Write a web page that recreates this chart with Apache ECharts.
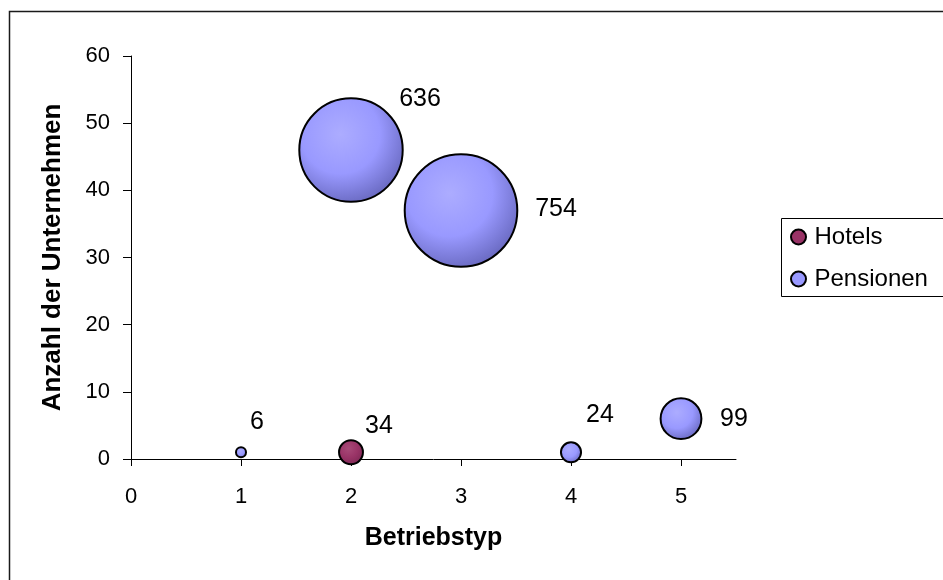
<!DOCTYPE html>
<html>
<head>
<meta charset="utf-8">
<title>Betriebstyp</title>
<script src="https://cdn.jsdelivr.net/npm/echarts@6/dist/echarts.min.js"></script>
<style>
    html, body { margin: 0; padding: 0; background: #fff; }
    #container { width: 943px; height: 580px; }
</style>
</head>
<body>
<div id="container"></div>
<script>
// Daten
var seriesNames = ['Hotels', 'Pensionen'];
// Betriebstyp (x), Anzahl der Unternehmen (y), Blasengröße
var hotelsX = [2];
var hotelsY = [1];
var hotelsSize = [34];
var pensionenX = [1, 2, 3, 4, 5];
var pensionenY = [1, 46, 37, 1, 6];
var pensionenSize = [6, 636, 754, 24, 99];
var xTicks = [0, 1, 2, 3, 4, 5];

// Beschriftungsversatz (nur Layout)
var hotelsLabelOffset = [[28, -26]];
var pensionenLabelOffset = [[16, -30], [69, -51], [95, -1], [29, -37], [53, 0]];

var font = 'Liberation Sans, Arial, sans-serif';

function buildData(xs, ys, sizes, offsets) {
    var out = [];
    for (var i = 0; i < xs.length; i++) {
        out.push({
            value: [xs[i], ys[i], sizes[i]],
            label: {offset: offsets[i]}
        });
    }
    return out;
}

function bubbleColor(light, mid, dark) {
    return {
        type: 'radial', x: 0.4, y: 0.35, r: 0.75,
        colorStops: [
            {offset: 0, color: light},
            {offset: 0.5, color: mid},
            {offset: 1, color: dark}
        ]
    };
}

var dom = document.getElementById('container');
var myChart = echarts.init(dom, null, {renderer: 'canvas'});

var option = {
    backgroundColor: '#fff',
    animation: false,
    textStyle: {fontFamily: font},
    grid: {left: 131, right: 207, top: 56, bottom: 121},
    graphic: [
        {   // äußerer Rahmen
            type: 'rect',
            shape: {x: 9.5, y: 11.5, width: 1000, height: 1000},
            style: {fill: 'none', stroke: '#1a1a1a', lineWidth: 1.5}
        },
        {   // Legendenrahmen
            type: 'rect',
            shape: {x: 781.5, y: 218.5, width: 200, height: 78},
            style: {fill: 'none', stroke: '#000', lineWidth: 1}
        }
    ],
    legend: {
        orient: 'vertical',
        left: 785,
        top: 220,
        icon: 'circle',
        itemWidth: 22,
        itemHeight: 15,
        itemGap: 18,
        textStyle: {fontFamily: font, fontSize: 24, color: '#000', lineHeight: 24},
        data: [
            {name: seriesNames[0], itemStyle: {color: '#993366', borderColor: '#000', borderWidth: 2}},
            {name: seriesNames[1], itemStyle: {color: '#9999ff', borderColor: '#000', borderWidth: 2}}
        ]
    },
    xAxis: {
        type: 'value',
        min: 0,
        max: 5.5,
        interval: 1,
        name: 'Betriebstyp',
        nameLocation: 'middle',
        nameGap: 67,
        nameTextStyle: {fontFamily: font, fontSize: 25, fontWeight: 'bold', color: '#000'},
        axisLine: {show: true, lineStyle: {color: '#000', width: 1}},
        axisTick: {show: true, length: 7, customValues: xTicks, lineStyle: {color: '#000'}},
        axisLabel: {fontFamily: font, fontSize: 22, color: '#000', margin: 27, customValues: xTicks},
        splitLine: {show: false}
    },
    yAxis: {
        type: 'value',
        min: 0,
        max: 60,
        interval: 10,
        name: 'Anzahl der Unternehmen',
        nameLocation: 'middle',
        nameGap: 65,
        nameTextStyle: {fontFamily: font, fontSize: 26, fontWeight: 'bold', color: '#000'},
        axisLine: {show: true, lineStyle: {color: '#000', width: 1}},
        axisTick: {show: true, length: 8, lineStyle: {color: '#000'}},
        axisLabel: {fontFamily: font, fontSize: 22, color: '#000', margin: 21},
        splitLine: {show: false}
    },
    series: [
        {
            name: seriesNames[0],
            type: 'scatter',
            data: buildData(hotelsX, hotelsY, hotelsSize, hotelsLabelOffset),
            symbolSize: function (d) { return 4.1 * Math.sqrt(d[2]); },
            itemStyle: {
                color: bubbleColor('#a84a78', '#993366', '#762650'),
                borderColor: '#000',
                borderWidth: 2,
                opacity: 1
            },
            label: {
                show: true,
                position: 'inside',
                formatter: function (p) { return p.value[2]; },
                fontFamily: font,
                fontSize: 25,
                color: '#000'
            }
        },
        {
            name: seriesNames[1],
            type: 'scatter',
            data: buildData(pensionenX, pensionenY, pensionenSize, pensionenLabelOffset),
            symbolSize: function (d) { return 4.1 * Math.sqrt(d[2]); },
            itemStyle: {
                color: bubbleColor('#acacff', '#9999ff', '#5e5eb2'),
                borderColor: '#000',
                borderWidth: 2,
                opacity: 1
            },
            label: {
                show: true,
                position: 'inside',
                formatter: function (p) { return p.value[2]; },
                fontFamily: font,
                fontSize: 25,
                color: '#000'
            }
        }
    ]
};

if (option && typeof option === 'object') {
    myChart.setOption(option, true);
}
</script>
</body>
</html>
